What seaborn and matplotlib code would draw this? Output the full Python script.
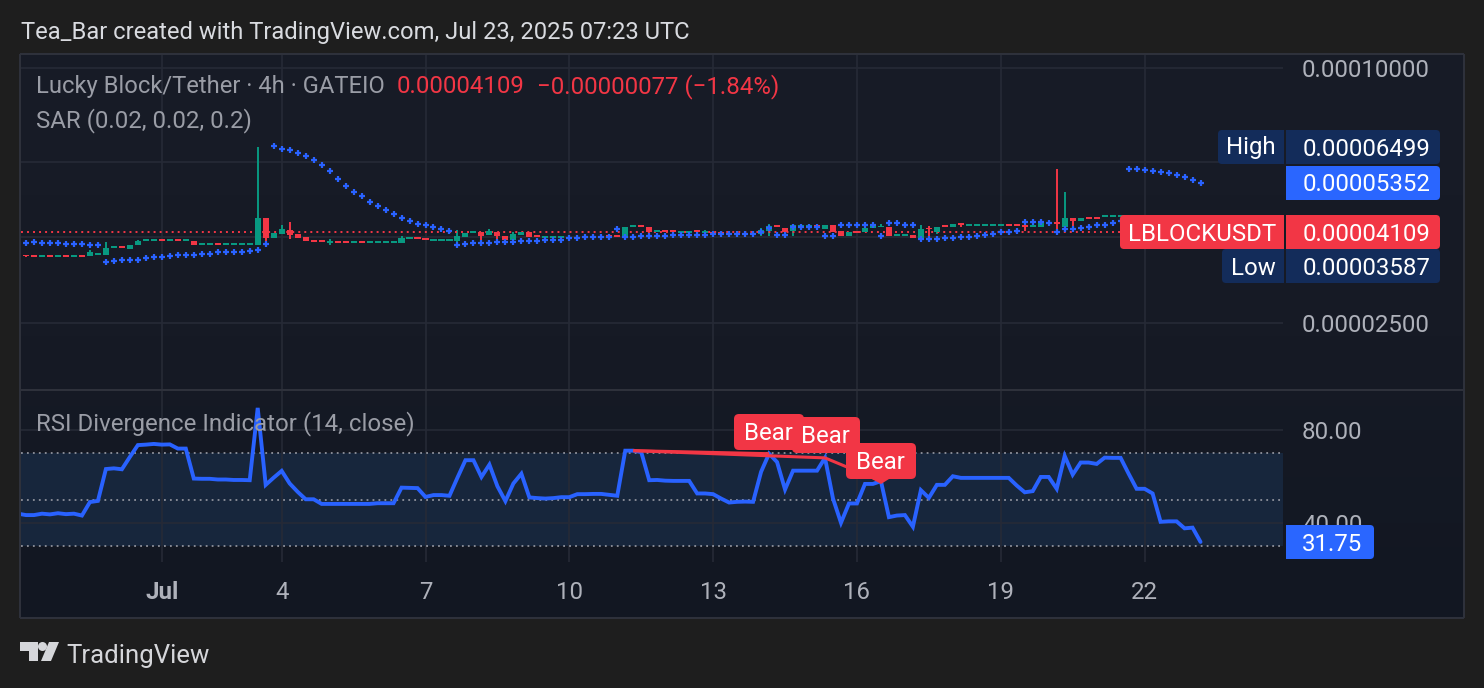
import numpy as np
import pandas as pd
import matplotlib
matplotlib.use("Agg")
import matplotlib.pyplot as plt
from matplotlib.patches import FancyBboxPatch, Rectangle, Polygon, Circle
import seaborn as sns

# ---- data: 4h bars, prices in units of 1e-8 USDT; the series start at bar -1 ----
open_px = [3640, 3627, 3627, 3587, 3627, 3587, 3627, 3587, 3627, 3590, 3627,
           3627, 3753, 3794, 3747, 3819, 3900, 3900, 3940, 3900, 3940,
           3900, 3913, 3829, 3829, 3871, 3829, 3829, 3829, 3829, 3829,
           4434, 3977, 4065, 4154, 4065, 3999, 3934, 3934, 3871, 3913,
           3913, 3871, 3913, 3871, 3871, 3871, 3871, 3871, 3940, 3986,
           3977, 3913, 3913, 3913, 3913, 3986, 4072, 4094, 4028, 4102,
           4005, 3934, 4043, 4109, 4028, 3977, 3977, 3977, 3956, 3956,
           3999, 3963, 3963, 4028, 4028, 3977, 4207, 4253, 4207, 4109,
           4154, 4154, 4087, 4087, 4140, 4072, 4109, 4109, 4087, 4043,
           4043, 4087, 4050, 4116, 4253, 4193, 4116, 4207, 4207, 4253,
           4176, 4262, 4124, 4005, 4131, 4094, 4192, 4207, 4214, 4021,
           4021, 4036, 3963, 4199, 4102, 4253, 4207, 4305, 4245, 4245,
           4245, 4245, 4245, 4292, 4292, 4268, 4214, 4207, 4322, 4322,
           4222, 4428, 4351, 4458, 4458, 4458, 4458, 4458, 4507, 4458,
           4410, 4434, 4386, 4339, 4292, 4245, 4199, 4186]
close_px = [3627, 3590, 3587, 3627, 3587, 3627, 3587, 3627, 3587, 3672, 3666,
            3761, 3794, 3753, 3829, 3913, 3940, 3940, 3900, 3940, 3900,
            3940, 3829, 3871, 3871, 3829, 3871, 3871, 3871, 3871, 4434,
            3977, 4087, 4170, 4035, 3977, 3900, 3892, 3892, 3913, 3871,
            3871, 3913, 3871, 3913, 3913, 3913, 3913, 3963, 3986, 3940,
            3934, 3956, 3956, 3956, 4005, 4081, 4116, 4021, 4116, 4005,
            3934, 4065, 4109, 3986, 3986, 4021, 4021, 4021, 3992, 3992,
            3966, 4005, 4005, 3986, 3986, 4210, 4253, 4207, 4109, 4154,
            4109, 4109, 4131, 4131, 4096, 4116, 4058, 4058, 4043, 4087,
            4087, 4043, 4154, 4245, 4207, 4094, 4253, 4253, 4253, 4207,
            4268, 4102, 4005, 4094, 4087, 4183, 4245, 4245, 4021, 4065,
            4065, 3963, 4176, 4165, 4214, 4207, 4292, 4268, 4292, 4292,
            4292, 4292, 4292, 4245, 4245, 4222, 4262, 4305, 4275, 4275,
            4428, 4351, 4434, 4410, 4410, 4507, 4507, 4507, 4458, 4410,
            4434, 4386, 4339, 4292, 4245, 4199, 4186, 4109]
# wick extremes beyond the candle body, keyed by bar number
high_wicks = {8: 3712, 10: 3892, 14: 3934, 29: 6499, 32: 4268, 33: 4339, 38: 3956,
              47: 4021, 54: 4154, 58: 4170, 61: 4094, 85: 4154, 92: 4193, 93: 4292,
              107: 4292, 112: 4262, 113: 4245, 129: 5787, 130: 5088}
low_wicks = {0: 3580, 30: 3862, 33: 3956, 37: 3877, 38: 3829, 54: 3871, 57: 3900,
             59: 3950, 75: 3934, 92: 4005, 93: 4021, 96: 4021, 112: 3900, 113: 4021,
             114: 4065, 117: 4214, 125: 4116, 129: 4116, 130: 4116, 131: 4214}
sar_px = [3870, 3870, 3883, 3862, 3862, 3862, 3840, 3840, 3840, 3819, 3819,
          3491, 3510, 3516, 3530, 3530, 3554, 3573, 3573, 3593, 3613,
          3613, 3627, 3646, 3646, 3672, 3672, 3686, 3686, 3706, 3712,
          3844, 6533, 6452, 6417, 6313, 6211, 6077, 5915, 5725, 5481,
          5277, 5107, 4978, 4819, 4715, 4613, 4514, 4434, 4364, 4292,
          4250, 4207, 4170, 4116, 3829, 3844, 3858, 3858, 3858, 3883,
          3892, 3892, 3913, 3913, 3913, 3920, 3934, 3934, 3963, 3963,
          3986, 3986, 3986, 3999, 4176, 3999, 3999, 4005, 4005, 4005,
          4005, 4028, 4030, 4030, 4030, 4030, 4058, 4058, 4060, 4060,
          4060, 4065, 4096, 4193, 4028, 4028, 4214, 4221, 4221, 4221,
          4021, 4021, 4268, 4268, 4268, 4253, 4253, 4021, 4305, 4305,
          4268, 4268, 3952, 3956, 3956, 3977, 3977, 3999, 3999, 4021,
          4043, 4065, 4094, 4094, 4116, 4332, 4332, 4332, 4305, 4102,
          4160, 4160, 4183, 4207, 4253, 4268, 4305, 4351, 5787, 5765,
          5756, 5725, 5694, 5641, 5580, 5520, 5451, 5352]
rsi_vals = [43.9, 43.3, 43.3, 43.9, 43.6, 44.1, 43.7, 43.9, 43.1, 48.9,
            49.4, 63.1, 63.4, 63.0, 68.3, 73.4, 73.6, 73.9, 73.6, 73.7,
            71.9, 71.9, 59.0, 58.9, 58.9, 58.6, 58.6, 58.4, 58.4, 58.3,
            89.4, 56.3, 59.4, 62.3, 56.9, 53.3, 50.1, 50.1, 48.1, 48.1,
            48.1, 48.1, 48.1, 48.1, 48.1, 48.4, 48.4, 48.4, 55.1, 55.0, 54.9,
            51.1, 51.9, 51.9, 51.6, 59.4, 66.9, 66.9, 59.7, 65.0, 55.7,
            49.3, 56.9, 61.1, 50.9, 50.6, 50.4, 50.6, 51.0, 51.0, 52.3,
            52.3, 52.4, 52.4, 52.0, 51.6, 71.0, 71.0, 70.4, 58.3, 58.4,
            58.1, 58.0, 58.0, 58.0, 52.6, 52.6, 52.3, 50.4, 48.7, 49.0,
            49.1, 49.0, 61.9, 69.7, 66.1, 54.3, 62.4, 62.4, 62.4, 62.4,
            67.9, 50.4, 40.0, 48.3, 48.3, 56.7, 56.7, 57.9, 42.4, 43.1,
            43.3, 38.3, 54.0, 50.7, 56.3, 56.3, 60.0, 59.3, 59.3, 59.3,
            59.3, 59.3, 59.3, 59.3, 56.0, 53.1, 53.6, 59.7, 59.7, 54.6,
            68.7, 60.7, 65.9, 65.9, 65.3, 68.0, 67.9, 67.9, 61.1, 54.6,
            54.6, 52.6, 40.4, 40.6, 40.6, 37.6, 37.9, 31.75]
# bearish divergence segments: (first bar, last bar, RSI at each end)
bear_segments = [(76, 93, 71.0, 69.7), (76, 100, 71.0, 67.9), (100, 107, 67.9, 57.9)]
bear_labels = ["Bear", "Bear", "Bear"]

time_ticks = [17, 32, 50, 68, 86, 104, 122, 140]
time_labels = ["Jul", "4", "7", "10", "13", "16", "19", "22"]
price_grid = [6e-5, 4e-5]
price_ticks = [1e-4, 2.5e-5]
price_tick_labels = ["0.00010000", "0.00002500"]
rsi_ticks = [80, 40]
rsi_tick_labels = ["80.00", "40.00"]
rsi_guides = [70, 50, 30]

UP, DOWN, BLUE = "#089981", "#f23645", "#2962ff"
GRID = "#262a36"
FRAME = "#2f323c"
TICK_TXT = "#aeb1ba"
LEGEND_TXT = "#9a9da6"
NAVY = "#132c5a"

W, H = 1484, 688
PANE_L, PANE_R = 21, 1283


def axes_px(left, top, right, bottom, **kw):
    return fig.add_axes([left / W, 1 - bottom / H, (right - left) / W, (bottom - top) / H], **kw)


sns.set_theme(style="dark", rc={"axes.grid": False, "savefig.facecolor": "#1e1e1e"})
plt.rcParams["font.family"] = ["Roboto", "DejaVu Sans"]

bars = np.arange(len(close_px)) - 1
df = pd.DataFrame({"bar": bars, "sar": np.array(sar_px) * 1e-8, "rsi": rsi_vals})

fig = plt.figure(figsize=(W / 100, H / 100), dpi=100, facecolor="#1e1e1e")

# chart background, slightly darker toward the bottom
bg = axes_px(20, 54, 1464, 618, zorder=0)
bg.imshow(np.linspace(0, 1, 256)[:, None], aspect="auto", vmin=0, vmax=1,
          cmap=matplotlib.colors.LinearSegmentedColormap.from_list(
              "pane", ["#181c27", "#161a25", "#121722"]))
bg.set_axis_off()

px_per_bar = 7.99
x_of = lambda px: (px - 26) / px_per_bar
xlim = (x_of(PANE_L), x_of(PANE_R))

# ---- price pane (log scale) ----
ax = axes_px(PANE_L, 54, PANE_R, 390, zorder=1)
ax.patch.set_alpha(0)
ax.set_yscale("log")
pane_price = lambda y: 1e-4 * 10 ** (-(y - 68) / 423.6)
ax.set_ylim(pane_price(390), pane_price(54))
ax.set_xlim(*xlim)
ax.grid(True, color=GRID, lw=1.2)
ax.set_axisbelow(True)

op = np.array(open_px) * 1e-8
cl = np.array(close_px) * 1e-8
hi = np.maximum(op, cl)
lo = np.minimum(op, cl)
for k, v in high_wicks.items():
    hi[k + 1] = v * 1e-8
for k, v in low_wicks.items():
    lo[k + 1] = v * 1e-8
colors = [UP if c >= o else DOWN for o, c in zip(op, cl)]
ax.vlines(bars, lo, hi, colors=colors, lw=1.4, zorder=2)
ax.bar(bars, np.abs(cl - op), bottom=np.minimum(op, cl), width=0.76, color=colors, lw=0, zorder=3)
ax.axhline(cl[-1], color=DOWN, lw=1.4, ls=(0, (1, 2.1)), zorder=2)
sns.scatterplot(data=df, x="bar", y="sar", marker="+", s=21, linewidth=1.6, color=BLUE,
                ax=ax, zorder=4, legend=False)

ax.yaxis.tick_right()
ax.set_yticks(price_ticks + price_grid, price_tick_labels + [""] * len(price_grid),
              fontsize=17.3, color=TICK_TXT)
ax.minorticks_off()
ax.tick_params(axis="y", length=0, pad=13.6)
ax.set_xticks(time_ticks, [])
ax.tick_params(axis="x", length=0)
ax.set_xlabel("")
ax.set_ylabel("")
for s in ax.spines.values():
    s.set_visible(False)

# ---- RSI pane ----
rsi_at = lambda y: 70 - (y - 453) / 2.325
ar = axes_px(PANE_L, 390, PANE_R, 562, zorder=1)
ar.patch.set_alpha(0)
ar.set_ylim(rsi_at(562), rsi_at(390))
ar.set_xlim(*xlim)
ar.grid(True, color=GRID, lw=1.2)
ar.set_axisbelow(True)
ar.axhspan(rsi_guides[2], rsi_guides[0], color="#17263c", lw=0, zorder=0.5)
for g in rsi_guides:
    ar.axhline(g, color="#8f929c", lw=1.3, ls=(0, (1, 2.3)), zorder=1)
sns.lineplot(data=df, x="bar", y="rsi", color=BLUE, lw=2.8, ax=ar, zorder=3,
             solid_joinstyle="miter", errorbar=None)
for b0, b1, v0, v1 in bear_segments:
    ar.plot([b0, b1], [v0, v1], color=DOWN, lw=2.2, zorder=4, solid_capstyle="butt")
ar.yaxis.tick_right()
ar.set_yticks(rsi_ticks, rsi_tick_labels, fontsize=17.3, color=TICK_TXT)
ar.tick_params(axis="y", length=0, pad=13.6)
ar.set_xticks(time_ticks, time_labels, fontsize=17.3, color=TICK_TXT)
ar.get_xticklabels()[0].set_fontweight("bold")
ar.tick_params(axis="x", length=0, pad=13.4)
ar.set_xlabel("")
ar.set_ylabel("")
for s in ar.spines.values():
    s.set_visible(False)

# ---- overlay in pixel coordinates: frame, legends, tags, branding ----
ov = axes_px(0, 0, W, H, zorder=5)
ov.set_xlim(0, W)
ov.set_ylim(H, 0)
ov.set_axis_off()
ov.patch.set_alpha(0)


def box(x0, y0, x1, y1, color, round_side="both", r=4, z=6):
    ov.add_patch(FancyBboxPatch((x0, y0), x1 - x0, y1 - y0, boxstyle=f"round,pad=0,rounding_size={r}",
                                fc=color, ec="none", zorder=z))
    if round_side == "left":
        ov.add_patch(Rectangle(((x0 + x1) / 2, y0), (x1 - x0) / 2, y1 - y0, fc=color, ec="none", zorder=z))
    if round_side == "right":
        ov.add_patch(Rectangle((x0, y0), (x1 - x0) / 2, y1 - y0, fc=color, ec="none", zorder=z))


def txt(x, y, s, color, size=17.3, ha="left", z=7, **kw):
    ov.text(x, y, s, color=color, fontsize=size, ha=ha, va="center_baseline", zorder=z, **kw)


for seg in [([20, 1464], [54, 54]), ([20, 1464], [617.5, 617.5]), ([20, 20], [54, 618]),
            ([1464, 1464], [54, 618]), ([21, 1464], [390, 390])]:
    ov.plot(*seg, color=FRAME, lw=1.4, zorder=1, solid_capstyle="butt")

txt(21, 30, "Tea_Bar created with TradingView.com, Jul 23, 2025 07:23 UTC", "#d9dbe0", size=17.12)
txt(36, 84, "Lucky Block/Tether · 4h · GATEIO", LEGEND_TXT, size=17.12)
txt(397, 84, "0.00004109", DOWN)
txt(537, 84, "−0.00000077 (−1.84%)", DOWN)
txt(36, 117.5, "SAR (0.02, 0.02, 0.2)", LEGEND_TXT)
txt(36, 420.5, "RSI Divergence Indicator (14, close)", LEGEND_TXT)

# price tags
box(1218, 130, 1284, 164, NAVY, "left")
box(1286, 130, 1440, 164, NAVY, "right")
txt(1251, 145, "High", "white", ha="center")
txt(1430, 147.5, "0.00006499", "white", ha="right")
box(1286, 166, 1440, 200, "#2a66ff", "right")
txt(1430, 182, "0.00005352", "white", ha="right")
box(1120, 215, 1284, 249, DOWN, "left")
box(1286, 215, 1440, 249, DOWN, "right")
txt(1202, 232, "LBLOCKUSDT", "white", ha="center")
txt(1430, 232, "0.00004109", "white", ha="right")
box(1222, 249, 1284, 283, NAVY, "left")
box(1286, 249, 1440, 283, NAVY, "right")
txt(1253, 266, "Low", "white", ha="center")
txt(1430, 266, "0.00003587", "white", ha="right")
box(1286, 525, 1374, 559, "#2a66ff", "right")
txt(1362, 542, "31.75", "white", ha="right")

# divergence labels
for (x0, y0, x1, y1), s in zip([(734, 414, 804, 450), (792, 417, 860, 453), (846, 443, 916, 479)], bear_labels):
    box(x0, y0, x1, y1, DOWN, r=5)
    txt((x0 + x1) / 2 - 0.5, (y0 + y1) / 2 - 1, s, "white", ha="center")
ov.add_patch(Polygon([[872, 479], [889, 479], [881, 484]], fc=DOWN, ec="none", zorder=6))

# TradingView mark
LOGO = "#d5d6da"
ov.add_patch(Polygon([[20, 642], [38, 642], [38, 661], [29, 661], [29, 651], [20, 651]], fc=LOGO, ec="none"))
ov.add_patch(Circle((42.5, 646.5), 4.5, fc=LOGO, ec="none"))
ov.add_patch(Polygon([[49, 642], [59, 642], [51, 661], [41, 661]], fc=LOGO, ec="none"))
txt(66, 654, "TradingView", "#d5d6da", size=18.5)

fig.savefig("out.png", dpi=100, facecolor="#1e1e1e")
